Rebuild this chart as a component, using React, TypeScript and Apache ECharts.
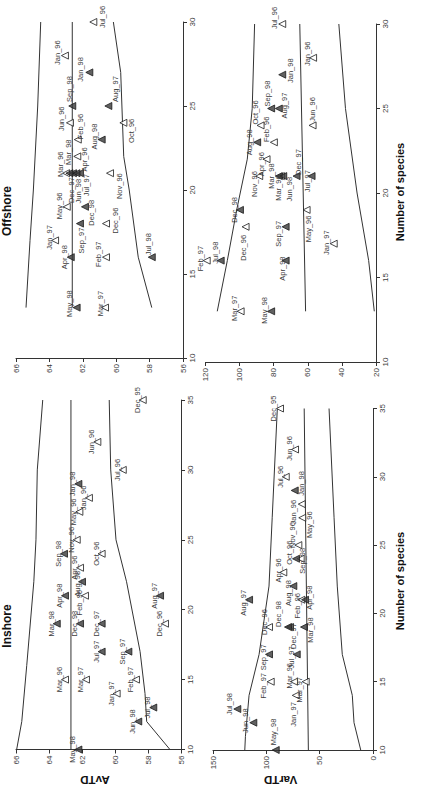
import { useEffect, useRef } from "react";
import * as echarts from "echarts";

const FONT = "'Liberation Sans', Arial, Helvetica, sans-serif";

// ---------------- Inshore samples ----------------
const inshoreSamples = ["Dec_95","Jan_96","Feb_96","Mar_96","Apr_96","May_96","Jun_96","Jul_96","Oct_96","Nov_96","Dec_96","Jan_97","Feb_97","Mar_97","Jul_97","Aug_97","Sep_97","Dec_97","Jan_98","Mar_98","Apr_98","May_98","Jun_98","Jul_98","Aug_98","Sep_98","Dec_98"];
const inshoreSpecies = [35,28,21,15,23,27,32,30,24,25,19,14,15,15,17,21,17,19,29,19,21,10,12,13,22,24,19];
const inshoreAvTD = [58.32,61.58,61.82,63.03,62.12,62.16,61.07,59.53,60.81,62.32,56.97,59.9,58.73,61.76,60.81,57.27,59.19,60.81,62.22,63.53,63.03,62.22,58.59,57.68,62.0,63.09,62.12];
const inshoreVarTD = [87.2,66.8,67.2,74.0,84.1,66.3,73.1,81.8,67.8,70.0,97.5,72.4,95.9,63.1,71.5,116.2,97.5,77.8,73.4,64.7,63.7,91.2,112.2,127.2,74.7,72.2,79.7];

// ---------------- Offshore samples ----------------
const offshoreSamples = ["Jan_96","Feb_96","Mar_96","Apr_96","May_96","Jun_96","Jul_96","Oct_96","Nov_96","Dec_96","Jan_97","Feb_97","Mar_97","Jul_97","Aug_97","Sep_97","Dec_97","Jan_98","Mar_98","Apr_98","May_98","Jun_98","Jul_98","Aug_98","Sep_98","Dec_98"];
const offshoreSpecies = [28,23,21,22,19,24,30,24,21,18,17,16,13,21,25,18,21,27,21,16,13,21,16,23,25,19];
const offshoreAvTD = [63.07,62.3,63.0,62.33,62.96,62.77,61.37,59.57,60.37,60.61,63.66,60.61,60.67,62.17,60.47,62.17,62.59,61.61,62.8,62.72,62.37,62.38,57.87,60.87,62.63,61.87];
const offshoreVarTD = [56.9,79.9,75.8,84.2,60.7,57.2,75.0,87.7,88.5,96.5,44.8,119.3,99.4,57.8,77.0,73.0,66.6,75.0,77.0,73.0,81.5,74.4,111.1,89.7,81.5,99.8];

// ---------------- 95% probability funnels (limits vs number of species) ----------------
const inAvUpperS = [10,12,16,22,25,30,35];
const inAvUpper = [65.96,65.65,65.35,64.92,64.79,64.71,64.38];
const inAvMeanS = [10,35];
const inAvMean = [62.67,62.67];
const inAvLowerS = [10,12,14,17,22,25,30,35];
const inAvLower = [56.67,58.08,58.18,58.48,59.3,59.94,60.26,60.35];

const offAvUpperS = [13,17,20,25,30];
const offAvUpper = [65.4,65.16,64.96,64.7,64.52];
const offAvMeanS = [13,30];
const offAvMean = [62.63,62.63];
const offAvLowerS = [13,16,20,22,27,30];
const offAvLower = [57.87,58.68,59.22,59.55,59.73,60.17];

const inVarUpperS = [10,11,14,17,22,27,35];
const inVarUpper = [120.2,119.6,116.2,106.8,97.5,94.5,89.7];
const inVarMeanS = [10,35];
const inVarMean = [60.6,64.5];
const inVarLowerS = [10,12,14,17,22,27,35];
const inVarLower = [11.5,17.8,19.4,28.8,33.5,36.5,41.2];

const offVarUpperS = [13,16,19,22,25,30];
const offVarUpper = [113.1,107.2,101.7,95.5,92.6,91.2];
const offVarMeanS = [13,30];
const offVarMean = [61.3,64.7];
const offVarLowerS = [13,16,20,25,30];
const offVarLower = [21.0,24.3,31.1,37.9,41.8];

// ---------------- label placement (screen px from the marker) ----------------
type Off = Record<string, [number, number]>;
const DEFAULT_OFFSET: [number, number] = [-5.5, 0];

const offAvOffsets: Off = {
  Jul_96: [9, -5], Jan_96: [-7, -3], Jan_98: [-9, -3], Sep_98: [-3, -17], Aug_97: [7, -17],
  Jun_96: [-8, -4], Oct_96: [8, 8], Feb_96: [3, -13], Aug_98: [-7, -3], Apr_96: [7, 3],
  Mar_96: [-6, -9], Mar_98: [-1, -21], Dec_97: [-1, 17], Jun_98: [2, 18], Jul_97: [7, 12],
  Nov_96: [9, 13], May_96: [-7, -1], Dec_98: [7, 6], Sep_97: [2, 17], Dec_96: [9, -3],
  Jan_97: [-6, -3], Apr_98: [-6, 0], Feb_97: [-8, -3], Jul_98: [-3, -13], May_98: [-7, -4], Mar_97: [-5, -4],
};
const inAvOffsets: Off = { Feb_96: [-5, 7], Aug_98: [-5, 2] };
const offVarOffsets: Off = {
  Jul_96: [-8, -6], Jan_96: [-6, -4], Jan_98: [8, -4], Sep_98: [-4, -15], Aug_97: [6, -3],
  Jun_96: [0, -16], Oct_96: [-5, -13], Feb_96: [-7, -13], Aug_98: [-8, 0], Apr_96: [-5, 5],
  Nov_96: [-5, 8], Mar_98: [-7, 0], Mar_96: [-2, 12], Jun_98: [6, 13], Dec_97: [2, -14],
  Jul_97: [-4, 5], Dec_98: [-5, 0], May_96: [2, 19], Dec_96: [-2, 21], Sep_97: [-7, 7],
  Jan_97: [-7, -1], Apr_98: [-3, 8], Jul_98: [-5, -8], Feb_97: [-6, -2], May_98: [-7, -1], Mar_97: [-6, -3],
};
const inVarOffsets: Off = {
  Dec_95: [-6, 0], Jun_96: [-6, -1], Jul_96: [-5, 0], Jan_98: [7, -7], Jan_96: [-8, 8],
  May_96: [7, 7], Nov_96: [-6, -10], Sep_98: [7, 2], Oct_96: [-11, -6], Apr_96: [-5, -2],
  Aug_98: [-5, 7], Feb_96: [-4, 6], Apr_98: [4, -2], Aug_97: [-6, 3], Dec_96: [-5, -5],
  Dec_98: [-9, -13], Dec_97: [3, 9], Mar_98: [7, 3], Sep_97: [-6, 3], Jul_97: [-5, 3],
  Feb_97: [-7, 4], Mar_96: [-5, -6], Mar_97: [-6, 8], Jan_97: [-2, 19], Jul_98: [-8, -5],
  Jun_98: [-8, -2], May_98: [-2, -18],
};

const MONTHS = ["Jan","Feb","Mar","Apr","May","Jun","Jul","Aug","Sep","Oct","Nov","Dec"];
// first sampling period (up to March 1997) drawn with open triangles
const isFirstPeriod = (name: string) => {
  const [m, y] = name.split("_");
  const t = (1900 + Number(y)) * 12 + MONTHS.indexOf(m);
  return t <= 1997 * 12 + 2;
};

type Panel = {
  grid: { left: number; top: number; width: number; height: number };
  xMin: number; xMax: number; xInterval: number; yMax: number;
  samples: string[]; species: number[]; values: number[];
  offsets: Off;
  lines: { s: number[]; v: number[] }[];
};

const panels: Panel[] = [
  {
    grid: { left: 16, top: 22, width: 167, height: 336 },
    xMin: 56, xMax: 66, xInterval: 2, yMax: 30,
    samples: offshoreSamples, species: offshoreSpecies, values: offshoreAvTD, offsets: offAvOffsets,
    lines: [{ s: offAvUpperS, v: offAvUpper }, { s: offAvMeanS, v: offAvMean }, { s: offAvLowerS, v: offAvLower }],
  },
  {
    grid: { left: 16, top: 400, width: 165, height: 349.5 },
    xMin: 56, xMax: 66, xInterval: 2, yMax: 35,
    samples: inshoreSamples, species: inshoreSpecies, values: inshoreAvTD, offsets: inAvOffsets,
    lines: [{ s: inAvUpperS, v: inAvUpper }, { s: inAvMeanS, v: inAvMean }, { s: inAvLowerS, v: inAvLower }],
  },
  {
    grid: { left: 205.5, top: 24, width: 170.5, height: 338 },
    xMin: 20, xMax: 120, xInterval: 20, yMax: 30,
    samples: offshoreSamples, species: offshoreSpecies, values: offshoreVarTD, offsets: offVarOffsets,
    lines: [{ s: offVarUpperS, v: offVarUpper }, { s: offVarMeanS, v: offVarMean }, { s: offVarLowerS, v: offVarLower }],
  },
  {
    grid: { left: 213, top: 408.5, width: 160, height: 341.5 },
    xMin: 0, xMax: 150, xInterval: 50, yMax: 35,
    samples: inshoreSamples, species: inshoreSpecies, values: inshoreVarTD, offsets: inVarOffsets,
    lines: [{ s: inVarUpperS, v: inVarUpper }, { s: inVarMeanS, v: inVarMean }, { s: inVarLowerS, v: inVarLower }],
  },
];

const AXIS_COLOR = "#333";
const TEXT_COLOR = "#3c3c3c";

function buildOption(): echarts.EChartsOption {
  const grid: any[] = [];
  const xAxis: any[] = [];
  const yAxis: any[] = [];
  const series: any[] = [];

  panels.forEach((p, k) => {
    grid.push({ ...p.grid, containLabel: false, outerBoundsMode: "none" });
    xAxis.push({
      type: "value", gridIndex: k, min: p.xMin, max: p.xMax, interval: p.xInterval,
      inverse: true, position: "bottom",
      axisLine: { show: true, onZero: false, lineStyle: { color: AXIS_COLOR, width: 1 } },
      axisTick: { show: true, length: 4, lineStyle: { color: AXIS_COLOR } },
      axisLabel: { rotate: 90, fontSize: 8, color: TEXT_COLOR, margin: 6, fontFamily: FONT },
      splitLine: { show: false },
    });
    yAxis.push({
      type: "value", gridIndex: k, min: 10, max: p.yMax, interval: 5, position: "right",
      axisLine: { show: true, onZero: false, lineStyle: { color: AXIS_COLOR, width: 1 } },
      axisTick: { show: true, length: 4, lineStyle: { color: AXIS_COLOR } },
      axisLabel: { rotate: 90, fontSize: 8, color: TEXT_COLOR, margin: 5, fontFamily: FONT },
      splitLine: { show: false },
    });

    p.lines.forEach((ln) => {
      series.push({
        type: "line", xAxisIndex: k, yAxisIndex: k,
        data: ln.s.map((s, i) => [ln.v[i], s]),
        showSymbol: false, symbol: "none", clip: false, z: 2,
        lineStyle: { color: "#333", width: 1 },
        silent: true,
      });
    });

    series.push({
      type: "scatter", xAxisIndex: k, yAxisIndex: k, clip: false, z: 3,
      symbol: "triangle", symbolSize: 7, symbolRotate: 90,
      data: p.samples.map((name, i) => ({
        name,
        value: [p.values[i], p.species[i]],
        itemStyle: {
          color: isFirstPeriod(name) ? "#ffffff" : "#3a3a3a",
          borderColor: "#1a1a1a",
          borderWidth: 1,
        },
      })),
      silent: true,
    });

    const samples = p.samples;
    const offsets = p.offsets;
    series.push({
      type: "custom", coordinateSystem: "cartesian2d", xAxisIndex: k, yAxisIndex: k,
      clip: false, z: 4, silent: true,
      data: samples.map((_, i) => [p.values[i], p.species[i]]),
      renderItem: (params: any, api: any) => {
        const i = params.dataIndex;
        const pt = api.coord([api.value(0), api.value(1)]);
        const off = offsets[samples[i]] || DEFAULT_OFFSET;
        return {
          type: "text",
          x: pt[0] + off[0],
          y: pt[1] + off[1],
          rotation: Math.PI / 2,
          style: {
            text: samples[i],
            fontSize: 7.5,
            fontFamily: FONT,
            fill: TEXT_COLOR,
            align: "center",
            verticalAlign: "middle",
            textAlign: "center",
            textVerticalAlign: "middle",
          },
        };
      },
    });
  });

  const label = (text: string, x: number, y: number, rotation: number, size: number) => ({
    type: "text", x, y, rotation, silent: true,
    style: {
      text, fontSize: size, fontWeight: "bold", fontFamily: FONT, fill: "#111",
      align: "center", verticalAlign: "middle", textAlign: "center", textVerticalAlign: "middle",
    },
  });

  return {
    animation: false,
    backgroundColor: "#ffffff",
    grid, xAxis, yAxis, series,
    graphic: [
      label("Offshore", 7, 211, Math.PI / 2, 12),
      label("Inshore", 7, 626, Math.PI / 2, 12),
      label("Number of species", 400, 192, Math.PI / 2, 11),
      label("Number of species", 400, 581, Math.PI / 2, 11),
      label("AvTD", 95, 780, Math.PI, 11.5),
      label("VarTD", 280.5, 780, Math.PI, 11.5),
    ],
  } as any;
}

export default function App() {
  const ref = useRef<HTMLDivElement>(null);
  useEffect(() => {
    if (!ref.current) return;
    const chart = echarts.init(ref.current, undefined, { renderer: "svg" });
    chart.setOption(buildOption());
    return () => chart.dispose();
  }, []);
  return (
    <div
      ref={ref}
      style={{ position: "absolute", left: 0, top: 0, width: 429, height: 787, background: "#fff" }}
    />
  );
}
